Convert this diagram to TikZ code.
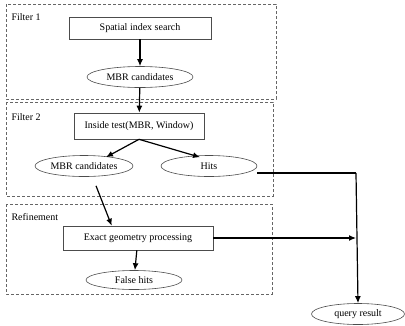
\documentclass[tikz,border=0pt]{standalone}
\usepackage{fontspec}
\setmainfont{Liberation Serif}
\usetikzlibrary{shapes.geometric,arrows.meta}

\begin{document}
\begin{tikzpicture}[x=1pt,y=-1pt,font=\fontsize{10}{12}\selectfont,
                    stage/.style={draw=black!60,dash pattern=on 3pt off 2pt,line width=0.6pt},
                    proc node/.style={rectangle,draw=black!70,line width=0.6pt,inner sep=0pt},
                    data node/.style={ellipse,draw=black!70,line width=0.6pt,inner sep=0pt,minimum height=21pt},
                    flow/.style={line width=1.2pt,-{Latex[length=7pt,width=6pt]}}]

  \useasboundingbox (0,0) rectangle (405,325);

  % stages
  \draw[stage] (6,4) rectangle (276,99);
  \draw[stage] (6,102) rectangle (273,196);
  \draw[stage] (6,204) rectangle (272,294);
  \node[anchor=west] (filter1) at (8,17) {Filter 1};
  \node[anchor=west] (filter2) at (8,117) {Filter 2};
  \node[anchor=west] (refine) at (8,217) {Refinement};

  % nodes
  \node[proc node,minimum width=142pt,minimum height=22pt] (search) at (140,28) {Spatial index search};
  \node[data node,minimum width=106pt] (mbrA) at (140,77) {MBR candidates};
  \node[proc node,minimum width=130pt,minimum height=26pt] (inside) at (139,126) {Inside test(MBR, Window)};
  \node[data node,minimum width=98pt] (mbrB) at (84,166) {MBR candidates};
  \node[data node,minimum width=96pt] (hits) at (209,166) {Hits};
  \node[proc node,minimum width=150pt,minimum height=24pt] (exact) at (138,238) {Exact geometry processing};
  \node[data node,minimum width=96pt,minimum height=19pt] (false) at (134,280) {False hits};
  \node[data node,minimum width=93pt] (query) at (358,314) {query result};
  \coordinate (turn) at (356,173);

  % connectors
  \draw[flow] (search) -- (mbrA);
  \draw[flow] (mbrA) -- (inside);
  \draw[flow] (inside.south) -- ([xshift=22pt,yshift=-2pt]mbrB.north);
  \draw[flow] (inside.south) -- ([xshift=-9pt,yshift=-2pt]hits.north);
  \draw[flow] ([shift={(12pt,-9pt)}]mbrB.south) -- ([xshift=49pt]exact.north west);
  \draw[flow] (exact) -- (false);
  \draw[line width=1.2pt] (hits.east |- turn) -- (turn);
  \draw[flow] (turn) -- (query.north);
  \draw[flow] (exact.east) -- (exact.east -| turn);

\end{tikzpicture}
\end{document}
